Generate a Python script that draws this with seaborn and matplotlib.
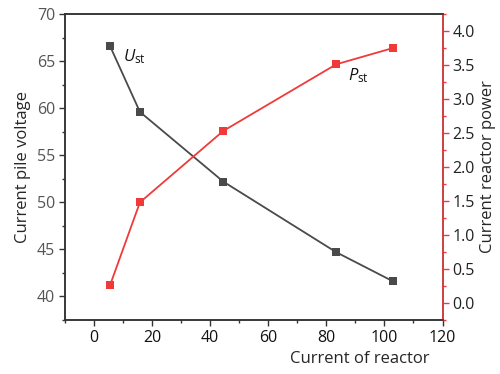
import seaborn as sns
import matplotlib.pyplot as plt
from matplotlib.ticker import MultipleLocator

# data
current = [5.5, 15.8, 44.5, 83.4, 103.0]
voltage = [66.6, 59.6, 52.2, 44.7, 41.6]
power = [0.26, 1.48, 2.53, 3.51, 3.75]

sns.set_style('ticks')
plt.rcParams['font.family'] = ['Open Sans', 'DejaVu Sans']
plt.rcParams['mathtext.fontset'] = 'custom'
plt.rcParams['mathtext.it'] = 'Open Sans:italic'
plt.rcParams['mathtext.rm'] = 'Open Sans'

gray = '#4a4a4a'
red = '#f03a3a'

fig = plt.figure(figsize=(5, 3.74), dpi=100)
ax = fig.add_axes([0.13, 0.1444, 0.755, 0.8182])
ax2 = ax.twinx()

sns.lineplot(x=current, y=voltage, ax=ax, color=gray, marker='s', markersize=6,
             markeredgewidth=0, linewidth=1.3)
sns.lineplot(x=current, y=power, ax=ax2, color=red, marker='s', markersize=6,
             markeredgewidth=0, linewidth=1.3)

ax.set_xlim(-10, 120)
ax.set_ylim(37.5, 70)
ax2.set_ylim(-0.25, 4.25)

ax.xaxis.set_major_locator(MultipleLocator(20))
ax.xaxis.set_minor_locator(MultipleLocator(10))
ax.yaxis.set_major_locator(MultipleLocator(5))
ax.yaxis.set_minor_locator(MultipleLocator(2.5))
ax2.yaxis.set_major_locator(MultipleLocator(0.5))
ax2.yaxis.set_minor_locator(MultipleLocator(0.25))
ax2.yaxis.set_major_formatter(plt.FormatStrFormatter('%.1f'))

for a in (ax, ax2):
    a.tick_params(which='major', direction='out', length=4, width=1, labelsize=11.5, pad=3)
    a.tick_params(which='minor', direction='out', length=2.5, width=1)
    for s in a.spines.values():
        s.set_linewidth(1.1)
        s.set_visible(True)
        s.set_color('#333333')

ax.tick_params(axis='y', which='both', colors='#333333', labelcolor='#555555')
ax.tick_params(axis='x', which='both', colors='#333333', labelcolor='#111111')
ax2.spines['right'].set_color(red)
ax2.tick_params(axis='y', which='both', colors=red, labelcolor='#222222')

ax.set_xlabel('Current of reactor', fontsize=12)
ax.xaxis.set_label_coords(0.78, -0.1)
ax.set_ylabel('Current pile voltage', fontsize=12, labelpad=4)
ax2.set_ylabel('Current reactor power', fontsize=12, labelpad=4)

ax.text(10, 65.0, r'$U_{\rm st}$', fontsize=12, color='#111111')
ax2.text(87.5, 3.27, r'$P_{\rm st}$', fontsize=12, color='#111111')

fig.savefig('out.png', dpi=100)
